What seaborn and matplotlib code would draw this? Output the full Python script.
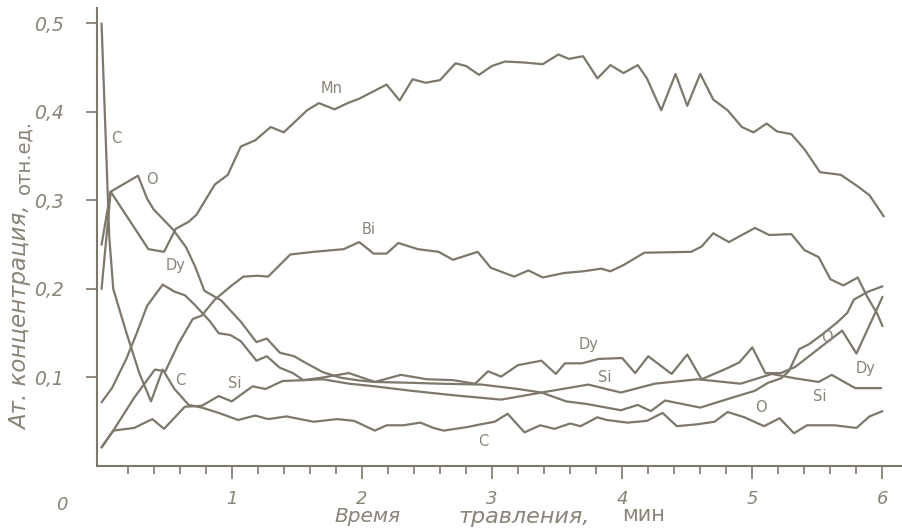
import matplotlib
matplotlib.use("Agg")
import matplotlib.pyplot as plt
from matplotlib.ticker import FixedLocator
import seaborn as sns

# Time of etching, min, and atomic concentration (rel. units) for each element
mn_t = [0.0, 0.07, 0.36, 0.48, 0.57, 0.67, 0.73, 0.87, 0.97, 1.07, 1.18, 1.30, 1.40, 1.58, 1.67,
        1.79, 1.89, 1.98, 2.19, 2.29, 2.39, 2.49, 2.60, 2.72, 2.80, 2.90, 3.00, 3.10, 3.24, 3.39,
        3.51, 3.59, 3.70, 3.81, 3.91, 4.01, 4.12, 4.19, 4.30, 4.41, 4.50, 4.60, 4.70, 4.81, 4.92,
        5.01, 5.11, 5.19, 5.30, 5.40, 5.52, 5.68, 5.80, 5.90, 6.01]
mn = [0.20, 0.31, 0.245, 0.242, 0.268, 0.276, 0.284, 0.318, 0.329, 0.361, 0.368, 0.383, 0.377,
      0.402, 0.410, 0.403, 0.410, 0.415, 0.431, 0.413, 0.437, 0.433, 0.436, 0.455, 0.452, 0.442,
      0.452, 0.457, 0.456, 0.454, 0.465, 0.460, 0.463, 0.438, 0.453, 0.444, 0.453, 0.438, 0.402,
      0.443, 0.407, 0.443, 0.414, 0.402, 0.383, 0.377, 0.387, 0.378, 0.375, 0.358, 0.332, 0.329,
      0.317, 0.306, 0.282]

bi_t = [0.0, 0.09, 0.25, 0.41, 0.49, 0.59, 0.70, 0.77, 0.87, 1.00, 1.09, 1.20, 1.28, 1.45, 1.63,
        1.86, 1.98, 2.09, 2.19, 2.28, 2.43, 2.59, 2.70, 2.89, 2.99, 3.17, 3.28, 3.39, 3.55, 3.70,
        3.84, 3.91, 4.01, 4.17, 4.53, 4.61, 4.70, 4.82, 5.02, 5.13, 5.30, 5.40, 5.51, 5.60, 5.70,
        5.81, 5.88, 5.96, 6.00]
bi = [0.021, 0.040, 0.077, 0.109, 0.107, 0.138, 0.166, 0.170, 0.188, 0.204, 0.214, 0.215, 0.214,
      0.239, 0.242, 0.245, 0.253, 0.240, 0.240, 0.252, 0.245, 0.242, 0.233, 0.242, 0.224, 0.214,
      0.221, 0.213, 0.218, 0.220, 0.223, 0.220, 0.227, 0.241, 0.242, 0.248, 0.263, 0.253, 0.269,
      0.261, 0.262, 0.244, 0.236, 0.211, 0.204, 0.213, 0.192, 0.172, 0.158]

o_t = [0.0, 0.07, 0.28, 0.35, 0.40, 0.55, 0.65, 0.72, 0.79, 0.92, 1.07, 1.19, 1.27, 1.37, 1.48,
       1.55, 1.70, 1.83, 1.96, 2.09, 2.38, 2.60, 2.92, 3.20, 3.38, 3.57, 3.73, 3.99, 4.12, 4.22,
       4.33, 4.60, 4.84, 5.02, 5.12, 5.22, 5.28, 5.36, 5.44, 5.54, 5.65, 5.73, 5.78, 5.89, 6.00]
o = [0.25, 0.31, 0.328, 0.302, 0.290, 0.267, 0.247, 0.225, 0.198, 0.187, 0.163, 0.140, 0.144,
     0.128, 0.124, 0.118, 0.106, 0.100, 0.097, 0.095, 0.094, 0.093, 0.092, 0.087, 0.083, 0.073,
     0.070, 0.063, 0.069, 0.062, 0.074, 0.066, 0.077, 0.085, 0.094, 0.099, 0.107, 0.132, 0.138,
     0.149, 0.162, 0.173, 0.188, 0.197, 0.203]

c_t = [0.0, 0.06, 0.09, 0.19, 0.29, 0.38, 0.47, 0.56, 0.67, 0.77, 0.90, 1.05, 1.18, 1.28, 1.42,
       1.63, 1.81, 1.94, 2.10, 2.19, 2.32, 2.45, 2.55, 2.63, 2.81, 2.91, 3.02, 3.12, 3.25, 3.37,
       3.48, 3.60, 3.68, 3.81, 3.88, 4.04, 4.19, 4.31, 4.42, 4.57, 4.71, 4.81, 4.94, 5.09, 5.21,
       5.32, 5.42, 5.63, 5.80, 5.90, 6.00]
c = [0.50, 0.257, 0.200, 0.151, 0.105, 0.073, 0.109, 0.087, 0.069, 0.066, 0.060, 0.052, 0.057,
     0.053, 0.056, 0.050, 0.053, 0.051, 0.040, 0.046, 0.046, 0.049, 0.043, 0.040, 0.044, 0.047,
     0.050, 0.059, 0.038, 0.046, 0.042, 0.048, 0.045, 0.055, 0.052, 0.049, 0.051, 0.060, 0.045,
     0.047, 0.050, 0.061, 0.055, 0.045, 0.054, 0.037, 0.046, 0.046, 0.043, 0.056, 0.062]

dy_t = [0.0, 0.08, 0.19, 0.27, 0.35, 0.47, 0.56, 0.64, 0.71, 0.83, 0.90, 0.99, 1.07, 1.19, 1.27,
        1.37, 1.47, 1.55, 1.70, 1.90, 2.10, 2.30, 2.50, 2.70, 2.87, 2.97, 3.07, 3.20, 3.38, 3.49,
        3.56, 3.69, 3.82, 4.00, 4.10, 4.20, 4.38, 4.50, 4.61, 4.80, 4.90, 5.00, 5.10, 5.22, 5.33,
        5.54, 5.69, 5.80, 6.00]
dy = [0.072, 0.088, 0.121, 0.150, 0.181, 0.205, 0.197, 0.193, 0.183, 0.164, 0.150, 0.148, 0.141,
      0.119, 0.124, 0.111, 0.105, 0.097, 0.100, 0.105, 0.095, 0.103, 0.098, 0.097, 0.093, 0.107,
      0.101, 0.114, 0.119, 0.104, 0.116, 0.116, 0.121, 0.122, 0.105, 0.124, 0.104, 0.126, 0.098,
      0.110, 0.117, 0.134, 0.105, 0.105, 0.112, 0.136, 0.153, 0.127, 0.191]

si_t = [0.0, 0.09, 0.25, 0.39, 0.48, 0.64, 0.77, 0.90, 1.00, 1.16, 1.26, 1.39, 1.55, 1.70, 1.90,
        2.10, 2.38, 2.70, 3.07, 3.38, 3.74, 3.99, 4.25, 4.58, 4.91, 5.15, 5.33, 5.51, 5.61, 5.79,
        5.99]
si = [0.021, 0.040, 0.043, 0.053, 0.042, 0.067, 0.068, 0.079, 0.073, 0.090, 0.087, 0.096, 0.097,
      0.098, 0.093, 0.090, 0.085, 0.080, 0.075, 0.083, 0.092, 0.083, 0.093, 0.098, 0.093, 0.104,
      0.099, 0.095, 0.103, 0.088, 0.088]

# Curve captions: text, time, concentration
captions = [("Mn", 1.77, 0.427), ("Bi", 2.05, 0.267), ("C", 0.115, 0.370), ("O", 0.39, 0.324),
            ("Dy", 0.568, 0.227), ("C", 0.608, 0.097), ("Si", 1.023, 0.093), ("C", 2.935, 0.028),
            ("Dy", 3.745, 0.137), ("Si", 3.87, 0.100), ("O", 5.577, 0.145), ("O", 5.064, 0.066),
            ("Dy", 5.87, 0.110), ("Si", 5.52, 0.079)]

x_ticks = [1, 2, 3, 4, 5, 6]
y_ticks = [0.1, 0.2, 0.3, 0.4, 0.5]
y_ticklabels = ["0,1", "0,2", "0,3", "0,4", "0,5"]

LINE = "#7e776b"
INK = "#8a8377"

sns.set_theme(style="ticks")
plt.rcParams["font.family"] = ["DejaVu Sans"]

fig = plt.figure(figsize=(9.02, 5.31), dpi=100)
fig.patch.set_facecolor("white")
ax = fig.add_axes([97 / 902, 65 / 531, 805 / 902, 458 / 531])
ax.set_facecolor("white")

for t, v in [(mn_t, mn), (bi_t, bi), (o_t, o), (c_t, c), (dy_t, dy), (si_t, si)]:
    sns.lineplot(x=t, y=v, ax=ax, color=LINE, linewidth=1.6, estimator=None, sort=False)

for txt, tx, ty in captions:
    ax.text(tx, ty, txt, color=INK, fontsize=10.5, ha="center", va="center")

ax.set_xlim(-0.035, 6.15)
ax.set_ylim(0, 0.5175)

sns.despine(ax=ax)
for s in ("left", "bottom"):
    ax.spines[s].set_color(LINE)
    ax.spines[s].set_linewidth(1.5)

ax.xaxis.set_major_locator(FixedLocator(x_ticks))
ax.xaxis.set_minor_locator(FixedLocator([k / 5 for k in range(1, 30) if k % 5]))
ax.set_xticklabels([str(v) for v in x_ticks], fontstyle="italic", fontsize=13, color=INK)
ax.yaxis.set_major_locator(FixedLocator(y_ticks))
ax.yaxis.set_minor_locator(FixedLocator([]))
ax.set_yticklabels(y_ticklabels, fontstyle="italic", fontsize=13.5, color=INK)

ax.tick_params(axis="x", which="major", direction="out", length=9, width=1.2, color=LINE, pad=8)
ax.tick_params(axis="x", which="minor", direction="out", length=6, width=1.2, color=LINE)
ax.tick_params(axis="y", which="major", direction="out", length=8, width=1.2, color=LINE, pad=16)

ax.set_xlabel("")
ax.set_ylabel("")

# Origin mark and axis titles
fig.text(62 / 902, 1 - 505 / 531, "0", fontstyle="italic", fontsize=13, color=INK,
         ha="center", va="center")
fig.text(21 / 902, 1 - 318 / 531, "Ат. концентрация,", rotation=90, fontstyle="italic",
         fontsize=16.5, color=INK, ha="center", va="center")
fig.text(24 / 902, 1 - 157 / 531, "отн.ед.", rotation=90, fontsize=14, color=INK,
         ha="center", va="center")
fig.text(368 / 902, 1 - 517 / 531, "Время", fontstyle="italic", fontsize=14.5, color=INK,
         ha="center", va="center")
fig.text(524 / 902, 1 - 517 / 531, "травления,", fontstyle="italic", fontsize=16, color=INK,
         ha="center", va="center")
fig.text(644 / 902, 1 - 515 / 531, "мин", fontsize=15, color=INK, ha="center", va="center")

fig.savefig("out.png", dpi=100, facecolor="white")
